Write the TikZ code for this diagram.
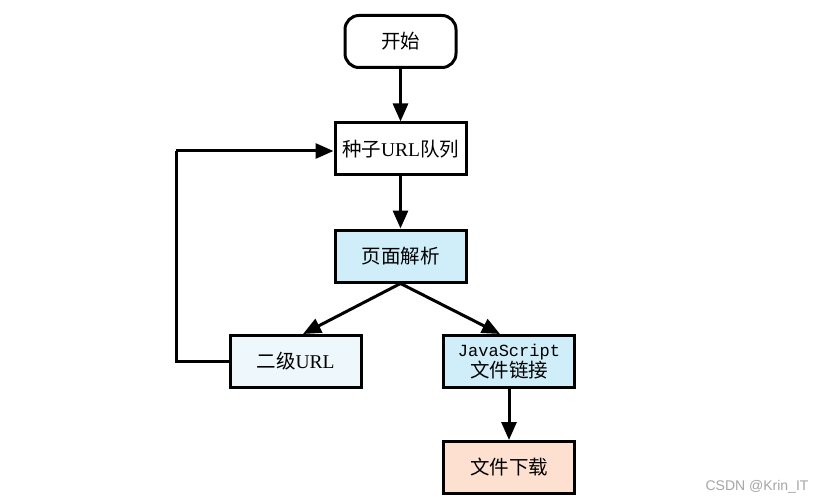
\documentclass[tikz,border=0pt]{standalone}
\usepackage{fontspec}
\setmainfont{Liberation Serif}
\newfontfamily\cjk{Noto Sans CJK SC}
\newfontfamily\jsmono{Liberation Mono}
\newfontfamily\wmfont{Liberation Sans}
\usetikzlibrary{arrows.meta}
\definecolor{pblue}{HTML}{CFEEFA}
\definecolor{lblue}{HTML}{EEF8FC}
\definecolor{peach}{HTML}{FDE0D0}
\begin{document}
\begin{tikzpicture}[x=1pt,y=-1pt,
  box/.style={draw=black,line width=3pt,minimum width=131pt,minimum height=52pt,inner sep=0pt,align=center,font=\fontsize{19.5}{23}\selectfont\cjk},
  startbox/.style={box,rounded corners=14pt,minimum width=111pt},
  conn/.style={line width=3pt,-{Triangle[length=18pt,width=15pt]}},
  plain/.style={line width=3pt}]
\useasboundingbox (0,0) rectangle (817,500);
\fill[white] (0,0) rectangle (817,500);
\node[startbox] (start) at (400.5,41.5) {开始};
\node[box] (seed) at (400.5,149) {种子{\rmfamily URL}队列};
\node[box,fill=pblue] (parse) at (400.5,256) {页面解析};
\node[box,fill=lblue] (sec) at (295.5,361.5) {二级{\rmfamily URL}};
\node[box,fill=pblue] (js) at (509,361.5) {{\jsmono\fontsize{17}{20}\selectfont JavaScript}\\[-2pt]文件链接};
\node[box,fill=peach] (dl) at (509,467.5) {文件下载};
\coordinate (lb) at (176,361.5);
\coordinate (lt) at (176,151);
\coordinate (ptop) at (303,335);
\coordinate (jtop) at (500,335);
\draw[conn] (start) -- (seed);
\draw[conn] (seed) -- (parse);
\draw[conn] (parse.south) -- (sec.north -| ptop);
\draw[conn] (parse.south) -- (js.north -| jtop);
\draw[conn] (js) -- (dl);
\draw[plain] (sec.west) -- (lb) -- (lt);
\draw[conn] (lt) -- (lt -| seed.west);
\node[font=\wmfont\fontsize{14}{16}\selectfont,text=black!35,anchor=east] (wm) at (812,487) {CSDN @Krin\_IT};
\end{tikzpicture}
\end{document}
